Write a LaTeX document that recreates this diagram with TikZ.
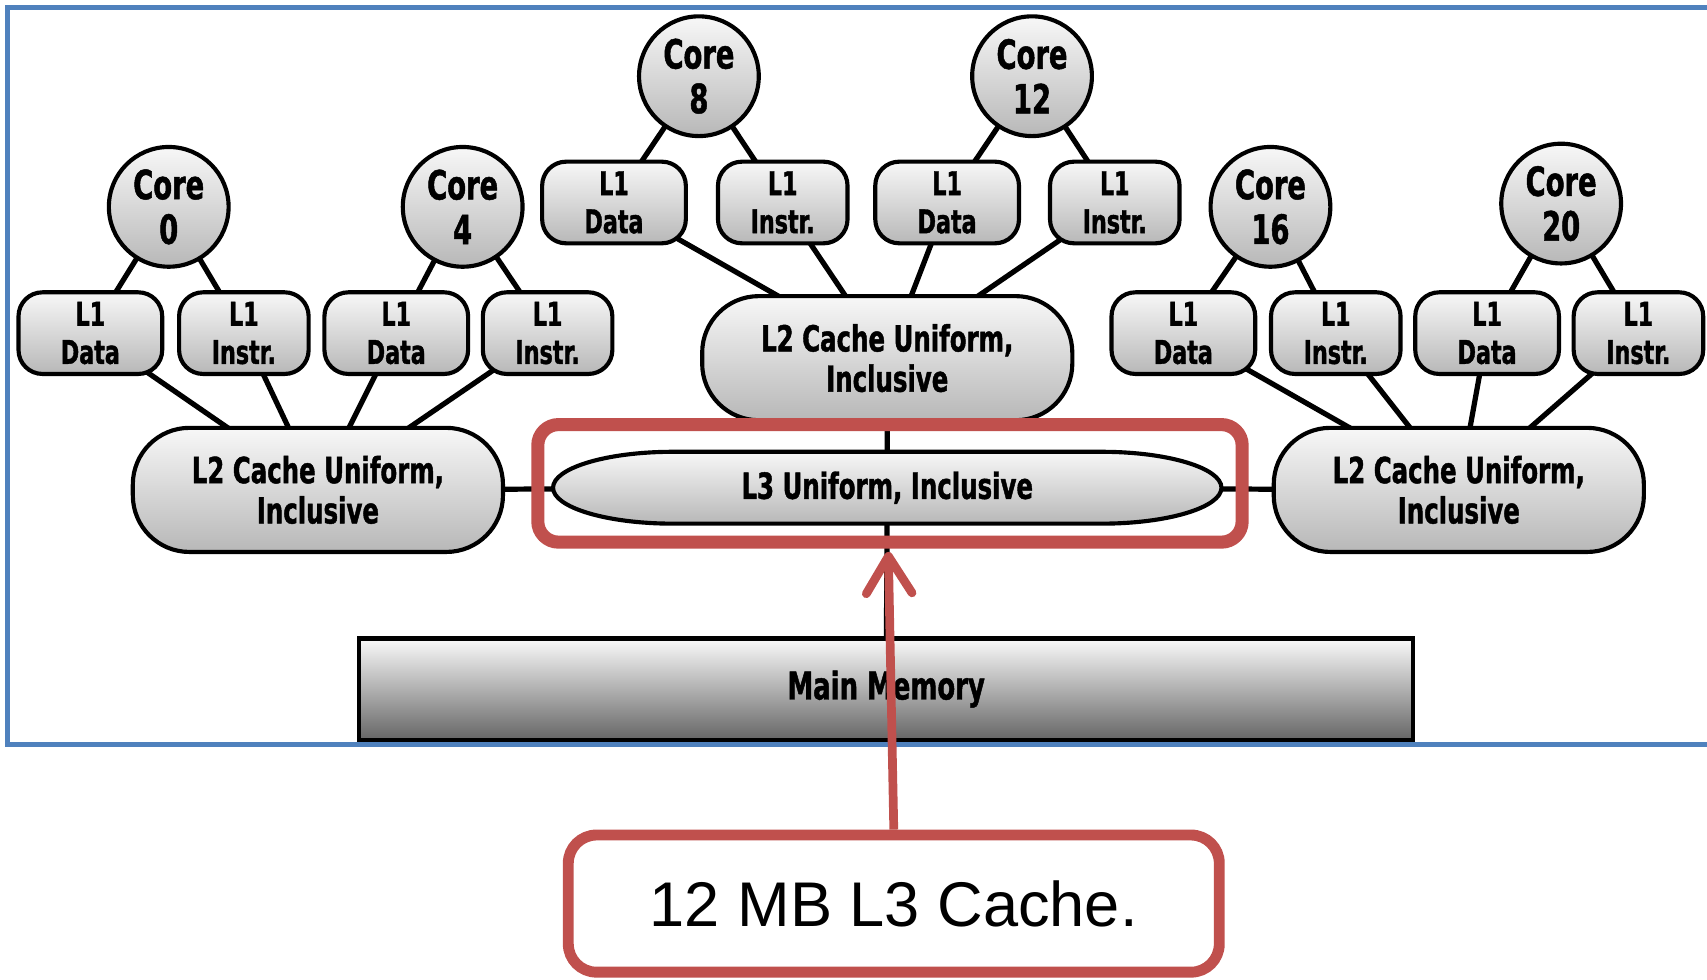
\documentclass[tikz,border=0pt]{standalone}
\usepackage{fontspec}
\newfontfamily\chipfont{DejaVu Sans}[FakeStretch=0.68, FakeBold=1.2]
\newfontfamily\notefont{Liberation Sans}
\usetikzlibrary{arrows.meta}
\pgfdeclarelayer{wires}
\pgfsetlayers{wires,main}

\definecolor{frameblue}{HTML}{4F81BD}
\definecolor{markred}{HTML}{C0504D}

\tikzset{
  unit/.style={draw=black, line width=1.9pt, top color=black!3, bottom color=black!28,
    align=center, inner sep=0pt, text=black},
  core/.style={unit, circle, minimum size=55pt,
    font=\chipfont\bfseries\fontsize{18.5}{20.5}\selectfont},
  lone/.style={unit, rounded corners=11pt, minimum height=37.5pt,
    font=\chipfont\bfseries\fontsize{15}{17.5}\selectfont},
  ldata/.style={lone, minimum width=66pt},
  linstr/.style={lone, minimum width=59.5pt},
  ltwo/.style={unit, rounded corners=26pt, minimum width=170pt, minimum height=57pt,
    font=\chipfont\bfseries\fontsize{16.5}{18.5}\selectfont},
  wire/.style={line width=2.4pt, black},
  highlightbox/.style={draw=markred, rounded corners=9.5pt, line width=6pt},
}

\begin{document}
\begin{tikzpicture}[x=0.5pt, y=-0.5pt]
\useasboundingbox (0,0) rectangle (1568,900);

% outer frame, open on the right
\draw[frameblue, line width=2pt] (1568,7) -- (7,7) -- (7,684) -- (1568,684);

% cores
\node[core] (core0)  at (155,190)  {Core\\0};
\node[core] (core4)  at (425,190)  {Core\\4};
\node[core] (core8)  at (642,70)   {Core\\8};
\node[core] (core12) at (948,70)   {Core\\12};
\node[core] (core16) at (1167,190) {Core\\16};
\node[core] (core20) at (1434,187) {Core\\20};

% L1 caches
\node[ldata]  (d0)  at (83,306)   {L1\\Data};
\node[linstr] (i0)  at (224,306)  {L1\\Instr.};
\node[ldata]  (d4)  at (364,306)  {L1\\Data};
\node[linstr] (i4)  at (503,306)  {L1\\Instr.};
\node[ldata]  (d8)  at (564,186)  {L1\\Data};
\node[linstr] (i8)  at (719,186)  {L1\\Instr.};
\node[ldata]  (d12) at (870,186)  {L1\\Data};
\node[linstr] (i12) at (1024,186) {L1\\Instr.};
\node[ldata]  (d16) at (1087,306) {L1\\Data};
\node[linstr] (i16) at (1227,306) {L1\\Instr.};
\node[ldata]  (d20) at (1366,306) {L1\\Data};
\node[linstr] (i20) at (1505,306) {L1\\Instr.};

% L2 caches
\node[ltwo] (l2a) at (292,450)  {L2 Cache Uniform,\\Inclusive};
\node[ltwo] (l2b) at (815,329)  {L2 Cache Uniform,\\Inclusive};
\node[ltwo] (l2c) at (1340,450) {L2 Cache Uniform,\\Inclusive};

% L3 cache: long rounded capsule
\path[draw=black, line width=1.9pt, top color=black!3, bottom color=black!28]
  (508,448) .. controls (508,430) and (557,415) .. (618,415)
  -- (1012,415) .. controls (1073,415) and (1122,430) .. (1122,448)
  .. controls (1122,466) and (1073,481) .. (1012,481)
  -- (618,481) .. controls (557,481) and (508,466) .. (508,448) -- cycle;
\node[font=\chipfont\bfseries\fontsize{16.5}{18.5}\selectfont] (l3) at (815,448) {L3 Uniform, Inclusive};

% main memory
\node[draw=black, line width=1.9pt, top color=black!2, bottom color=black!60,
      minimum width=484pt, minimum height=46.5pt, inner sep=0pt,
      font=\chipfont\bfseries\fontsize{17.5}{19}\selectfont] (mm) at (814,633) {Main Memory};

% interconnect
\begin{pgfonlayer}{wires}
  \foreach \c/\d/\i in {core0/d0/i0, core4/d4/i4, core8/d8/i8, core12/d12/i12, core16/d16/i16, core20/d20/i20}{
    \draw[wire] (\c.center) -- (\d.center);
    \draw[wire] (\c.center) -- (\i.center);
  }
  \foreach \n in {d0,i0,d4,i4}    \draw[wire] (\n.center) -- (l2a.center);
  \foreach \n in {d8,i8,d12,i12}  \draw[wire] (\n.center) -- (l2b.center);
  \foreach \n in {d16,i16,d20,i20}\draw[wire] (\n.center) -- (l2c.center);
  \draw[wire] (l2a.center) -- (l3.center) -- (l2c.center);
  \draw[wire] (l2b.center) -- (l3.center) -- (mm.center);
\end{pgfonlayer}

% highlight and callout
\node[highlightbox, minimum width=323.5pt, minimum height=54pt] (focus) at (817.5,444) {};
\node[draw=markred, line width=5pt, rounded corners=13pt, fill=white,
      minimum width=299pt, minimum height=63pt,
      font=\notefont\fontsize{29}{33}\selectfont] (note) at (821,830) {12 MB L3 Cache.};
\coordinate (tip) at (816,507);
\draw[markred, line width=4pt, -{Straight Barb[length=17pt, width=21pt, round]}]
  (note.north) -- (tip);
\end{tikzpicture}
\end{document}
